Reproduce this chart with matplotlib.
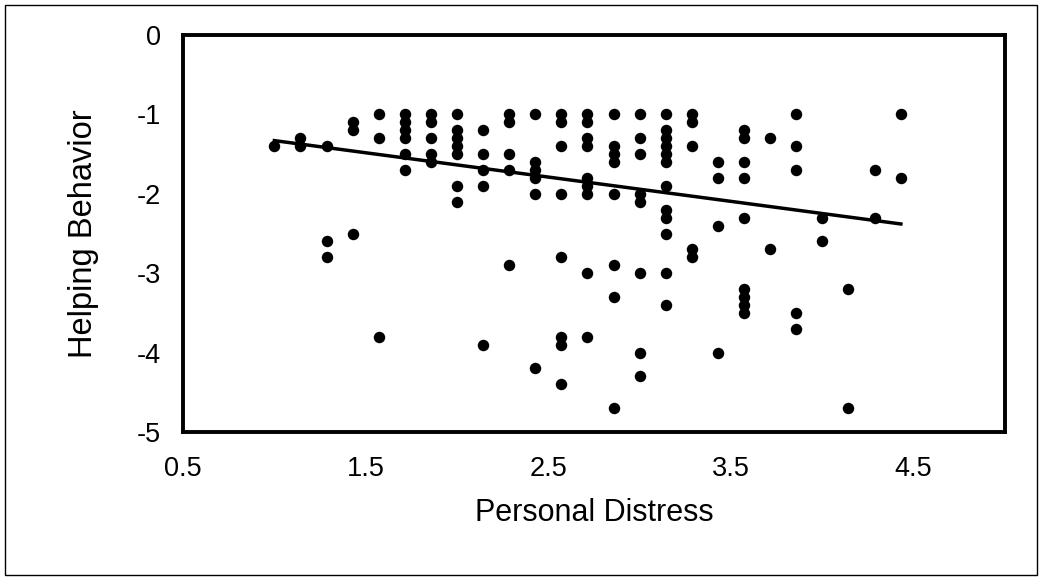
import numpy as np
import matplotlib
matplotlib.use("Agg")
import matplotlib.pyplot as plt
from matplotlib.patches import Rectangle

plt.rcParams['font.family'] = ['Liberation Sans', 'DejaVu Sans']

# Personal distress scores step by 1/7 (mean of 7 items); helping scores per column
step_index = [0, 1, 2, 3, 4, 5, 6, 7, 8, 9, 10, 11, 12,
              13, 14, 15, 16, 17, 18, 19, 20, 21, 22, 23, 24]
helping = [
    [-1.4],
    [-1.3, -1.4],
    [-1.4, -2.6, -2.8],
    [-1.1, -1.2, -2.5],
    [-1.0, -1.3, -3.8],
    [-1.0, -1.1, -1.2, -1.3, -1.5, -1.7],
    [-1.0, -1.1, -1.3, -1.5, -1.6],
    [-1.0, -1.2, -1.3, -1.4, -1.5, -1.9, -2.1],
    [-1.2, -1.5, -1.7, -1.9, -3.9],
    [-1.0, -1.1, -1.5, -1.7, -2.9],
    [-1.0, -1.6, -1.7, -1.8, -2.0, -4.2],
    [-1.0, -1.1, -1.4, -2.0, -2.8, -3.8, -3.9, -4.4],
    [-1.0, -1.1, -1.3, -1.4, -1.8, -1.9, -2.0, -3.0, -3.8],
    [-1.0, -1.4, -1.5, -1.6, -2.0, -2.9, -3.3, -4.7],
    [-1.0, -1.3, -1.5, -2.0, -2.1, -3.0, -4.0, -4.3],
    [-1.0, -1.2, -1.3, -1.4, -1.5, -1.6, -1.9, -2.2, -2.3, -2.5, -3.0, -3.4],
    [-1.0, -1.1, -1.4, -2.7, -2.8],
    [-1.6, -1.8, -2.4, -4.0],
    [-1.2, -1.3, -1.6, -1.8, -2.3, -3.2, -3.3, -3.4, -3.5],
    [-1.3, -2.7],
    [-1.0, -1.4, -1.7, -3.5, -3.7],
    [-2.3, -2.6],
    [-3.2, -4.7],
    [-1.7, -2.3],
    [-1.0, -1.8],
]

# linear trendline as drawn in the chart (ends)
trend_x = [1.0, 4.43]
trend_y = [-1.33, -2.38]

x_ticks = [0.5, 1.5, 2.5, 3.5, 4.5]
y_ticks = [0, -1, -2, -3, -4, -5]

x = []
y = []
for k, vals in zip(step_index, helping):
    for v in vals:
        x.append(1 + k / 7)
        y.append(v)

fig = plt.figure(figsize=(10.42, 5.78), dpi=100)
ax = fig.add_axes([183 / 1042, 1 - 432 / 578, (1005 - 183) / 1042, (432 - 35) / 578])

ax.scatter(x, y, s=68, color='black', zorder=3, linewidths=0)
ax.plot(trend_x, trend_y, color='black', lw=2.5, zorder=2)

ax.set_xlim(0.5, 5.0)
ax.set_ylim(-5, 0)
ax.set_xticks(x_ticks)
ax.set_xticklabels([str(t) for t in x_ticks])
ax.set_yticks(y_ticks)
ax.set_yticklabels([str(t) for t in y_ticks])
ax.tick_params(length=0, labelsize=19.5, pad=17)
ax.tick_params(axis='y', pad=16)
for sp in ax.spines.values():
    sp.set_linewidth(2.8)
    sp.set_color('black')

ax.set_xlabel('Personal Distress', fontsize=22, labelpad=12)
ax.set_ylabel('Helping Behavior', fontsize=23.5, labelpad=27)

fig.patches.append(Rectangle((5 / 1042, 3 / 578), 1032 / 1042, 570 / 578,
                             transform=fig.transFigure, fill=False,
                             edgecolor='black', lw=1))

fig.savefig('out.png', dpi=100)
